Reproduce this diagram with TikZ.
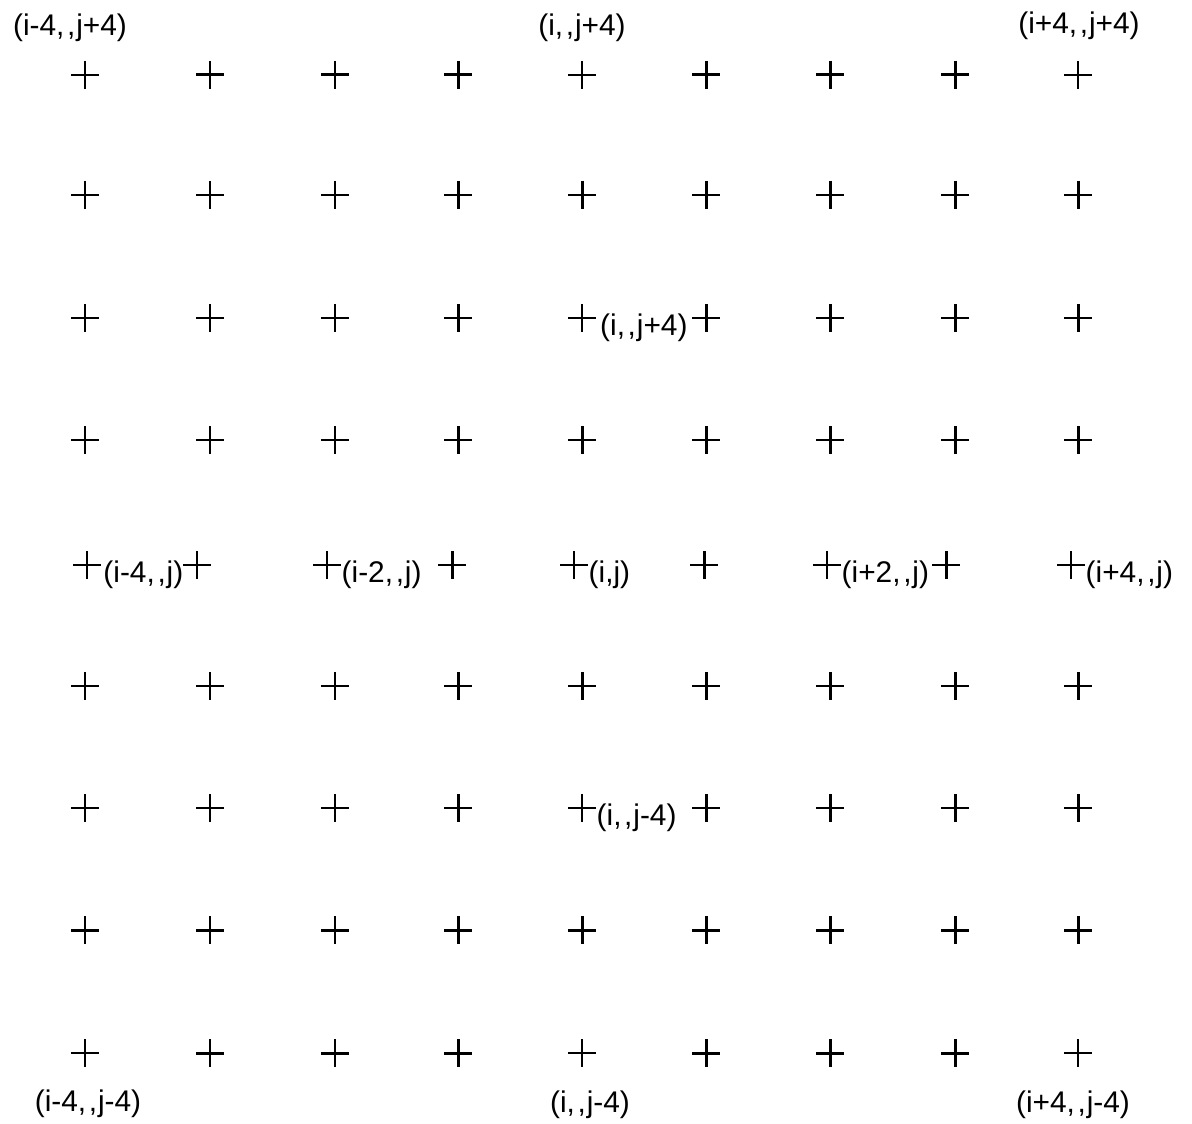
\documentclass[tikz,border=0pt]{standalone}
\usepackage{fontspec}
\setmainfont{Liberation Sans}
\usetikzlibrary{positioning}
\newcommand{\dcomma}{,\kern1.5pt,\kern0.5pt}

\begin{document}
\begin{tikzpicture}[x=0.02cm,y=-0.02cm,line cap=butt]
	\tikzset{
		pluspt/.style={inner sep=0pt,minimum size=0.56cm,
			path picture={\draw[line width=#1] (path picture bounding box.north) -- (path picture bounding box.south)
				(path picture bounding box.west) -- (path picture bounding box.east);}},
		gridpt/.style={pluspt=1.7pt},
		labpt/.style={pluspt=1.1pt},
		lab/.style={font=\fontsize{17}{20}\selectfont,inner sep=0pt}
	}
	\useasboundingbox (0,0) rectangle (1192,1124);
	% regular rows
	\foreach \r/\y in {1/75,2/195,3/318,4/440,6/686,7/808,8/930,9/1053}
		\foreach \c/\x in {1/85,2/210,3/335,4/458,5/582,6/706,7/830,8/955,9/1078}
		{
			\pgfmathtruncatemacro\thin{(\c==5 && (\r==1 || \r==3 || \r==7 || \r==9)) || ((\c==1 || \c==9) && (\r==1 || \r==9))}
			\ifnum\thin=1 \node[labpt] (p\r\c) at (\x,\y) {}; \else \node[gridpt] (p\r\c) at (\x,\y) {}; \fi
		}
	% middle row
	\foreach \c/\x in {1/87,2/197,3/327,4/452,5/574,6/704,7/827,8/946,9/1071}
	{
		\ifodd\c \node[labpt] (p5\c) at (\x,565) {}; \else \node[gridpt] (p5\c) at (\x,565) {}; \fi
	}
	% corner and edge labels
	\node[lab] (t11) at (70,28) {(i-4\dcomma j+4)};
	\node[lab] (t15) at (582,28) {(i\dcomma j+4)};
	\node[lab] (t19) at (1079,26) {(i+4\dcomma j+4)};
	\node[lab] (b91) at (88,1104) {(i-4\dcomma j-4)};
	\node[lab] (b95) at (590,1105) {(i\dcomma j-4)};
	\node[lab] (b99) at (1073,1105) {(i+4\dcomma j-4)};
	% labels next to the points
	\node[lab,right=2pt of p35,yshift=-0.2cm] (l35) {(i\dcomma j+4)};
	\node[lab,right=0pt of p75,yshift=-0.2cm] (l75) {(i\dcomma j-4)};
	\node[lab,right=1pt of p51,yshift=-0.2cm] (l51) {(i-4\dcomma j)};
	\node[lab,right=0pt of p53,yshift=-0.2cm] (l53) {(i-2\dcomma j)};
	\node[lab,right=0pt of p55,yshift=-0.2cm] (l55) {(i,j)};
	\node[lab,right=0pt of p57,yshift=-0.2cm] (l57) {(i+2\dcomma j)};
	\node[lab,right=0pt of p59,yshift=-0.2cm] (l59) {(i+4\dcomma j)};
\end{tikzpicture}
\end{document}
